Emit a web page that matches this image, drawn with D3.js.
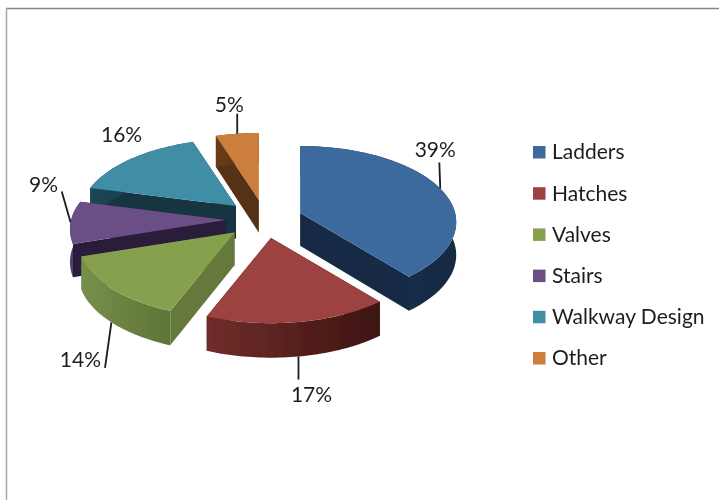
<!DOCTYPE html>
<html><head><meta charset="utf-8">
<script src="https://cdn.jsdelivr.net/npm/d3@7"></script>
<style>html,body{margin:0;padding:0;background:#fff}svg{display:block}text{font-family:Lato,"Open Sans",sans-serif;fill:#1f1f1f}</style>
</head><body><div id="c"></div>
<script>
const categories = ["Ladders","Hatches","Valves","Stairs","Walkway Design","Other"];
const values = [39,17,14,9,16,5];
const topColors = ["#3e6b9e","#9c4240","#87a04e","#6a4f87","#3f8ea6","#cc7f3e"];
const wallColors = ["#152b44","#3f1512","#65793d","#2b1c3a","#16343f","#553014"];
const arcWallLeft = ["#1b3554","#702d2b","#76904a","#5a4678","#1c4654","#6a3c18"];
const arcWallRight = ["#142a42","#3d1411","#5f7438","#2b1c3a","#16343f","#553014"];
// layout: how far and in what direction each slice is pulled out
const explodeDist = [46,22.6,23,29,24.8,22.4];
const explodeBearing = [78.7,135,243,274,310,10];
const leaderLen = [26,23,46,32,0,20];
const leaderBearing = [358,180,188,344,0,0];
const labelDx = [-5,13,-31,-27,-10,-8];
const labelDy = [-39,38,37,-38,-24,-29];
const drawOrder = [5,4,3,2,0,1];

const W=719,H=500,cx=255,cy=222,A=155,B=75,K=0.12,D=30;
const svg=d3.select("#c").append("svg").attr("width",W).attr("height",H);
const defs=svg.append("defs");
defs.append("filter").attr("id","soft").attr("x","-5%").attr("y","-5%").attr("width","110%").attr("height","110%")
  .append("feGaussianBlur").attr("stdDeviation",0.45);
svg.append("rect").attr("width",W).attr("height",H).attr("fill","#fff");
const frame=svg.append("g");
frame.append("line").attr("x1",6).attr("x2",W).attr("y1",8.5).attr("y2",8.5).attr("stroke","#858585").attr("stroke-width",1.5);
frame.append("line").attr("x1",6.5).attr("x2",6.5).attr("y1",8).attr("y2",H).attr("stroke","#a6a6a6").attr("stroke-width",1.5);

const pie=d3.pie().sort(null).value(d=>d);
const arcs=pie(values);
const rad=d=>d*Math.PI/180;
function apexOf(i){const b=rad(explodeBearing[i]);return [cx+explodeDist[i]*Math.sin(b),cy-explodeDist[i]*Math.cos(b)];}
function pt(i,a,r,down){
  const X=r*Math.sin(a),Y=r*Math.cos(a),f=1/(1+K*Y),o=apexOf(i);
  return [o[0]+A*X*f,o[1]-B*Y*f+(down?D+1.75*(1-Y)+1:0)];
}
const line=d3.line();
const g=svg.append("g").attr("filter","url(#soft)");
drawOrder.forEach(i=>{
  const s=arcs[i],a0=s.startAngle,a1=s.endAngle;
  const steps=d3.range(0,49).map(k=>a0+(a1-a0)*k/48);
  const sg=g.append("g");
  const wall=a=>[pt(i,a,0,false),pt(i,a,1,false),pt(i,a,1,true),pt(i,a,0,true)];
  [a0,a1].forEach(a=>sg.append("path").attr("d",line(wall(a))+"Z").attr("fill",wallColors[i]));
  const top=steps.map(a=>pt(i,a,1,false)),bot=steps.map(a=>pt(i,a,1,true)).reverse();
  const xs=top.map(p=>p[0]);
  const id="grad"+i;
  const gr=defs.append("linearGradient").attr("id",id).attr("gradientUnits","userSpaceOnUse")
    .attr("x1",d3.min(xs)).attr("x2",d3.max(xs)).attr("y1",0).attr("y2",0);
  gr.append("stop").attr("offset",0).attr("stop-color",arcWallLeft[i]);
  gr.append("stop").attr("offset",1).attr("stop-color",arcWallRight[i]);
  sg.append("path").attr("d",line(top.concat(bot))+"Z").attr("fill",`url(#${id})`);
  sg.append("path").attr("d",line([pt(i,a0,0,false)].concat(top))+"Z").attr("fill",topColors[i]);
});

// leaders and percentage labels
const labels=svg.append("g").attr("filter","url(#soft)");
arcs.forEach((s,i)=>{
  const mid=(s.startAngle+s.endAngle)/2;
  const front=Math.cos(mid)<-0.5;
  const m=pt(i,mid,1,front);
  const b=rad(leaderBearing[i]),L=leaderLen[i];
  if(L>0) labels.append("line").attr("x1",m[0]).attr("y1",m[1])
    .attr("x2",m[0]+L*Math.sin(b)).attr("y2",m[1]-L*Math.cos(b))
    .attr("stroke","#1a1a1a").attr("stroke-width",1.8);
  labels.append("text").attr("x",m[0]+labelDx[i]).attr("y",m[1]+labelDy[i]).attr("dy","0.35em")
    .attr("text-anchor","middle").attr("font-size",21).text(s.value+"%");
});

// legend
const rowY=d3.scalePoint().domain(categories).range([152,358]);
const leg=svg.append("g").attr("filter","url(#soft)");
categories.forEach((c,i)=>{
  leg.append("rect").attr("x",533).attr("y",rowY(c)-6).attr("width",12.5).attr("height",12.5).attr("fill",topColors[i]);
  leg.append("text").attr("x",552).attr("y",rowY(c)).attr("dy","0.35em").attr("font-size",21).text(c);
});
</script></body></html>
